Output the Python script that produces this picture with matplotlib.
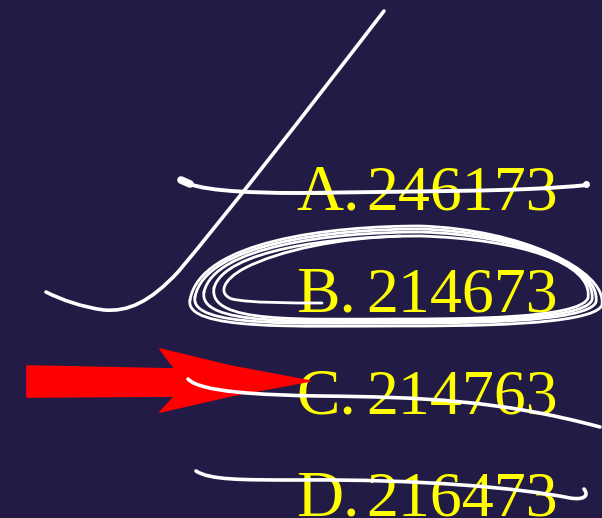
import matplotlib
matplotlib.use("Agg")
import matplotlib.pyplot as plt
from matplotlib.path import Path
from matplotlib.patches import PathPatch, Polygon

# ---- content ----
labels = ["A.", "B.", "C.", "D."]
numbers = ["246173", "214673", "214763", "216473"]
baselines = [209, 311, 413, 515]

BG = "#221b45"
YELLOW = "#ffff00"
WHITE = "#ffffff"
RED = "#ff0000"

W, H = 602, 518
fig = plt.figure(figsize=(W / 100, H / 100), dpi=100)
fig.patch.set_facecolor(BG)
ax = fig.add_axes([0, 0, 1, 1])
ax.set_facecolor(BG)
ax.set_xlim(0, W)
ax.set_ylim(H, 0)
ax.axis("off")

font = ["Liberation Serif", "DejaVu Serif"]
for lab, num, yb in zip(labels, numbers, baselines):
    ax.text(296, yb, lab, family=font, fontsize=47, color=YELLOW,
            ha="left", va="baseline", zorder=2)
    ax.text(366, yb, num, family=font, fontsize=46, color=YELLOW,
            ha="left", va="baseline", zorder=2)


def stroke(verts, codes, lw=2.6, color=WHITE, z=3):
    p = Path(verts, codes)
    ax.add_patch(PathPatch(p, facecolor="none", edgecolor=color, lw=lw,
                           capstyle="round", joinstyle="round", zorder=z))


M, C, L = Path.MOVETO, Path.CURVE4, Path.LINETO

# long diagonal stroke
stroke([(384, 11), (300, 120), (230, 210), (178, 272),
        (150, 302), (128, 312), (104, 310),
        (82, 307), (62, 300), (46, 292)],
       [M, C, C, C, C, C, C, C, C, C], lw=2.6)

# A strike
stroke([(181, 180), (195, 190), (240, 193), (300, 193),
        (420, 191), (520, 192), (587, 185)],
       [M, C, C, C, C, C, C], lw=2.8)
ax.plot([181, 190], [180, 184], color=WHITE, lw=5.5, solid_capstyle="round", zorder=3)
ax.plot([586], [184], marker="o", ms=4, color=WHITE, zorder=3)

# B loops
loops = [
    (190, 300, 226, 602, 305, 326),
    (195, 297, 229, 596, 302, 323),
    (204, 292, 232, 592, 300, 321),
    (214, 288, 236, 588, 298, 319),
]
for (xl, yl, yt, xr, yr, yb) in loops:
    verts = [(xl, yl), (xl + 10, yt + 15), (330, yt), (420, yt),
             (520, yt + 3), (xr + 5, yr - 35), (xr, yr),
             (xr - 8, yb), (460, yb), (400, yb),
             (300, yb), (xl - 6, yb + 5), (xl, yl)]
    stroke(verts, [M] + [C] * 12, lw=2.0)
# inner tail
stroke([(322, 303), (290, 303), (250, 303), (232, 299),
        (218, 294), (222, 280), (245, 268),
        (280, 250), (340, 238), (400, 236)],
       [M, C, C, C, C, C, C, C, C, C], lw=2.0)

# red arrow
arrow = [(27, 366), (175, 369), (160, 349), (230, 366), (310, 381),
         (230, 396), (160, 412), (175, 396), (27, 397)]
ax.add_patch(Polygon(arrow, closed=True, facecolor=RED, edgecolor=RED,
                     lw=1.2, joinstyle="round", zorder=2.5))

# C strike
stroke([(188, 379), (200, 392), (260, 395), (320, 396),
        (420, 397), (500, 400), (600, 427)],
       [M, C, C, C, C, C, C], lw=2.6)

# D strike
stroke([(196, 471), (210, 480), (240, 480), (300, 480),
        (420, 479), (520, 488), (570, 498),
        (582, 500), (590, 497), (584, 489)],
       [M, C, C, C, C, C, C, C, C, C], lw=2.6)

fig.savefig("out.png", dpi=100, facecolor=BG)
